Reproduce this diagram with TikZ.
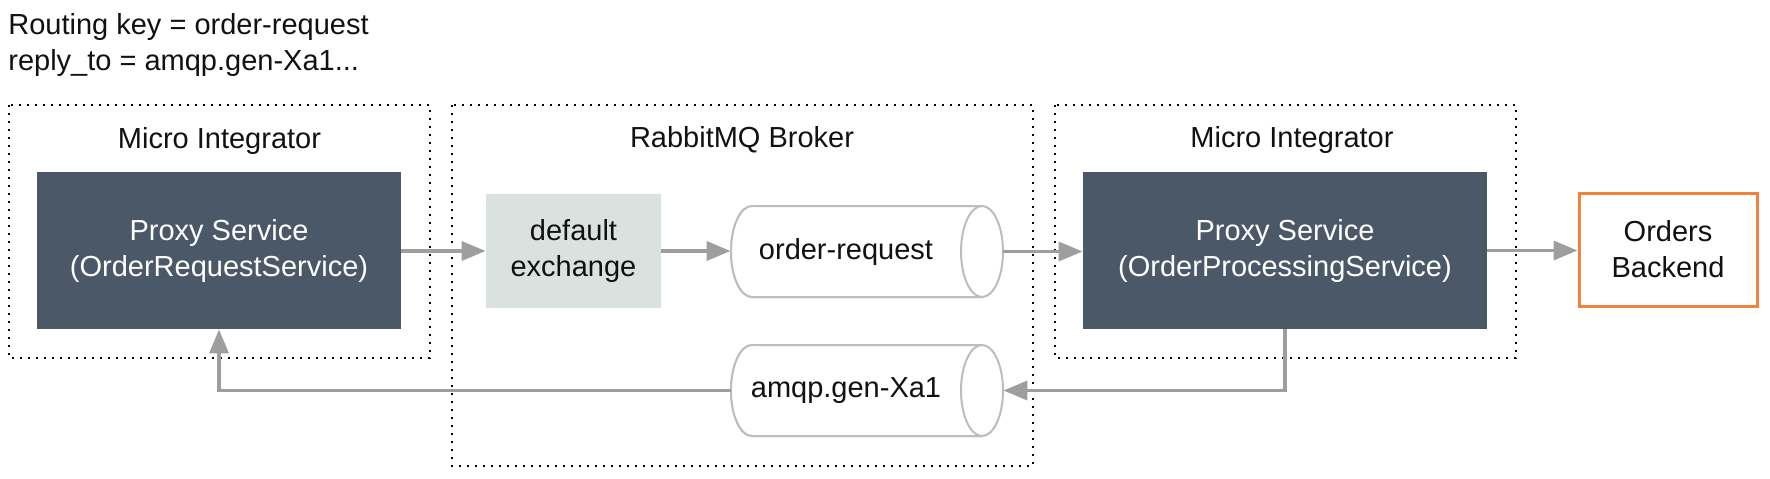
\documentclass[tikz,border=0pt]{standalone}
\usepackage{fontspec}
\setmainfont{Liberation Sans}
\usetikzlibrary{arrows.meta}
\definecolor{slate}{HTML}{4A5868}
\definecolor{exfill}{HTML}{D9E2DF}
\definecolor{arrowgray}{HTML}{9E9E9E}
\definecolor{cylgray}{HTML}{BDBDBD}
\definecolor{orangeb}{HTML}{F2813A}
\definecolor{txt}{HTML}{111111}
\begin{document}
\begin{tikzpicture}[x=0.5pt,y=-0.5pt,
 every node/.style={font=\fontsize{14.5pt}{18pt}\selectfont, inner sep=0pt, align=center, text=txt},
 group/.style={draw=black, line width=1pt, dash pattern=on 1pt off 3pt},
 svc/.style={fill=slate, text=white, minimum height=78.5pt},
 exch/.style={fill=exfill, minimum width=87.5pt, minimum height=57pt},
 backend/.style={draw=orangeb, line width=1.5pt, fill=white, minimum width=89pt, minimum height=56.5pt},
 queue/.style={minimum width=136pt, minimum height=45.5pt},
 cyl/.style={draw=cylgray, line width=1pt, fill=white},
 flow/.style={draw=arrowgray, line width=1.8pt, -{Triangle[length=12pt,width=9.5pt]}},
]
\useasboundingbox (0,0) rectangle (1770,478);

% title
\node[anchor=base west, align=left] (title) at (8,70) {Routing key = order-request\\reply\_to = amqp.gen-Xa1...};

% groups
\draw[group] (9,105) rectangle (430,358);
\draw[group] (452,105) rectangle (1033,466);
\draw[group] (1055,105) rectangle (1516,358);
\node[anchor=base] (g1) at (219.5,148) {Micro Integrator};
\node[anchor=base] (g2) at (742,147) {RabbitMQ Broker};
\node[anchor=base] (g3) at (1292,147) {Micro Integrator};

% cylinders
\foreach \T/\B in {206/297, 345/436}{
  \path[cyl] (752,\T) -- (982,\T) -- (982,\B) -- (752,\B)
     arc[start angle=270, end angle=90, x radius=10.5pt, y radius=22.75pt] -- cycle;
  \draw[cyl] (752,\T) arc[start angle=90, end angle=270, x radius=10.5pt, y radius=22.75pt] -- (982,\B);
  \draw[cyl] (752,\T) -- (982,\T);
  \draw[cyl] (982,{(\T+\B)/2}) ellipse[x radius=10.5pt, y radius=22.75pt];
}

% nodes
\node[svc, minimum width=182pt] (ps1) at (219,250.5) {Proxy Service\\(OrderRequestService)};
\node[exch] (ex) at (573.5,251) {default\\exchange};
\node[queue] (oreq) at (867,251.5) {order-request\hspace*{21pt}};
\node[queue] (amqp) at (867,390.5) {amqp.gen-Xa1\hspace*{21pt}};
\node[svc, minimum width=202pt] (ps2) at (1285,250.5) {Proxy Service\\(OrderProcessingService)};
\node[backend] (ob) at (1668,249.5) {Orders\\Backend};

% connectors
\draw[flow] (ex.west -| ps1.east) -- (ex.west);
\draw[flow] (ex.east) -- (ex.east -| oreq.west);
\draw[flow] (oreq.east) -- (oreq.east -| ps2.west);
\draw[flow] (ps2.east) -- (ps2.east -| ob.west);
\draw[flow] (ps2.south) |- (amqp.east);
\draw[flow] (amqp.west) -| (ps1.south);
\end{tikzpicture}
\end{document}
